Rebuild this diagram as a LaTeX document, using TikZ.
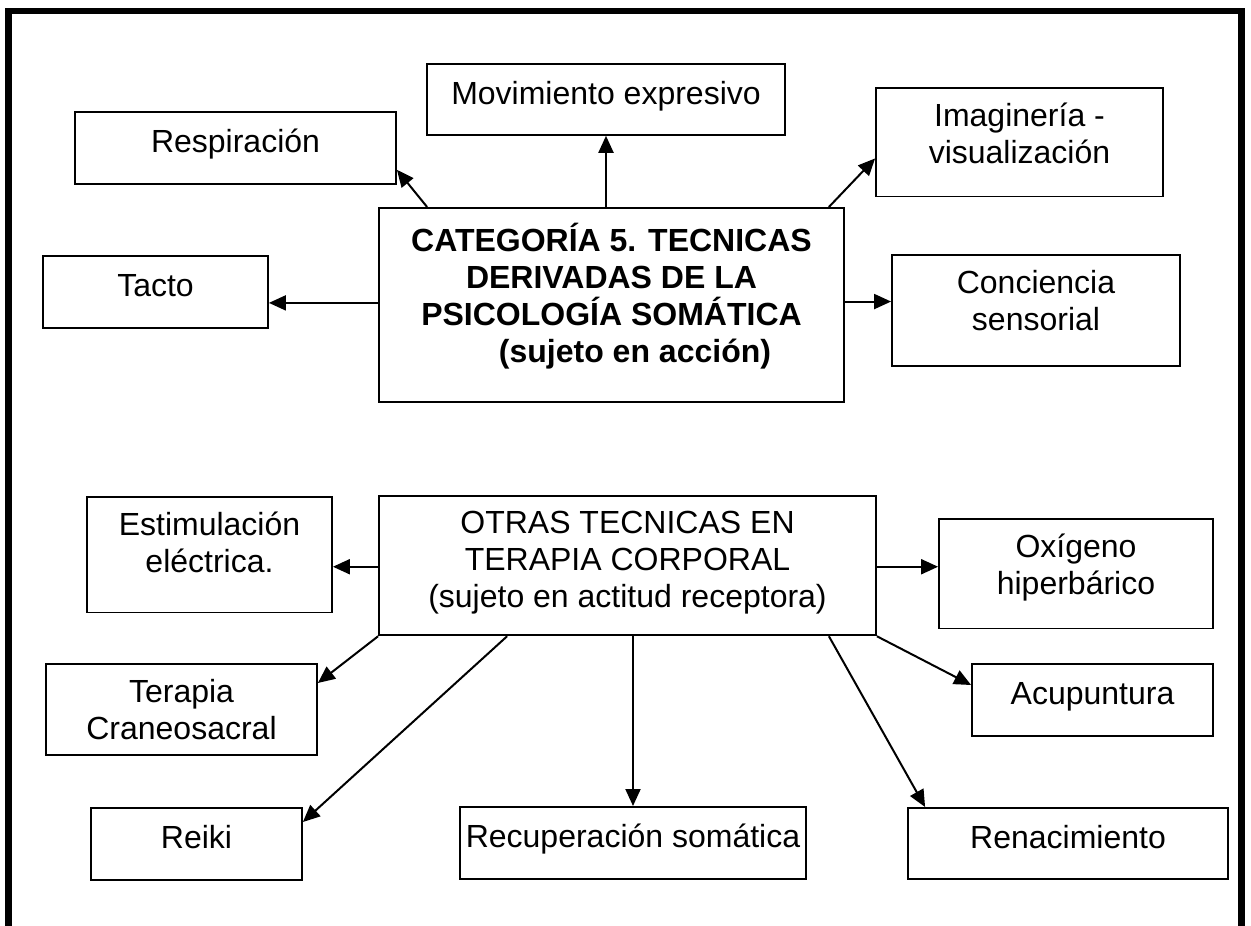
\documentclass[tikz,border=0pt]{standalone}
\usepackage{fontspec}
\setmainfont{Liberation Sans}
\usepackage{tikz}
\usetikzlibrary{arrows.meta}
\tikzstyle{caja} = [draw, line width=1.8pt, anchor=north, align=center, inner xsep=6pt, inner ysep=15pt, font=\fontsize{32}{37}\selectfont, execute at begin node=\strut]
\tikzstyle{flecha} = [line width=2pt,-{Triangle[length=17pt,width=15pt]}]

\begin{document}
\begin{tikzpicture}[x=1pt, y=-1pt]
  \useasboundingbox (0,0) rectangle (1251,926);
  % Marco
  \draw[line width=6.5pt] (8.5,926) -- (8.5,11) -- (1241.5,11) -- (1241.5,926);

  % Categoria 5
  \node[caja, minimum width=465pt, text depth=25.1pt, font=\fontsize{32}{37}\selectfont\bfseries] (cat) at (611.5,207)
    {CATEGORÍA 5. TECNICAS\\DERIVADAS DE LA\\PSICOLOGÍA SOMÁTICA\\\hspace*{47pt}(sujeto en acción)};
  \node[caja, minimum width=321pt, text depth=16.1pt] (resp) at (235.5,111) {Respiración};
  \node[caja, minimum width=358pt, text depth=15.1pt] (mov) at (606,63) {Movimiento expresivo};
  \node[caja, minimum width=287pt, text depth=18.1pt] (imag) at (1019.5,87) {Imaginería -\\visualización};
  \node[caja, minimum width=225pt, text depth=16.1pt] (tacto) at (155.5,255) {Tacto};
  \node[caja, minimum width=288pt, text depth=21.1pt] (conc) at (1036,254) {Conciencia\\sensorial};

  \draw[flecha] ([xshift=49pt]cat.north west) -- ([yshift=15pt]resp.south east);
  \draw[flecha] (mov.south |- cat.north) -- (mov.south);
  \draw[flecha] ([xshift=-16pt]cat.north east) -- ([yshift=39pt]imag.south west);
  \draw[flecha] ([yshift=-11pt]tacto.east -| cat.west) -- ([yshift=-11pt]tacto.east);
  \draw[flecha] ([yshift=9pt]conc.west -| cat.east) -- ([yshift=9pt]conc.west);

  % Otras tecnicas
  \node[caja, minimum width=497pt, text depth=13.1pt] (otras) at (627.5,495)
    {OTRAS TECNICAS EN\\TERAPIA CORPORAL\\(sujeto en actitud receptora)};
  \node[caja, minimum width=245pt, text depth=25.1pt] (estim) at (209.5,496) {Estimulación\\eléctrica.};
  \node[caja, minimum width=274pt, text depth=19.1pt] (oxig) at (1076,518) {Oxígeno\\hiperbárico};
  \node[caja, minimum width=271pt, text depth=1.1pt] (tera) at (181.5,663) {Terapia\\Craneosacral};
  \node[caja, minimum width=241pt, text depth=16.1pt] (acu) at (1092.5,663) {Acupuntura};
  \node[caja, minimum width=211pt, text depth=16.1pt] (reiki) at (196.5,807) {Reiki};
  \node[caja, minimum width=346pt, text depth=16.1pt] (recu) at (633,806) {Recuperación somática};
  \node[caja, minimum width=320pt, text depth=15.1pt] (rena) at (1068,807) {Renacimiento};

  \draw[flecha] ([yshift=-12pt]estim.east -| otras.west) -- ([yshift=-12pt]estim.east);
  \draw[flecha] ([yshift=7pt]oxig.west -| otras.east) -- ([yshift=7pt]oxig.west);
  \draw[flecha] (otras.south west) -- ([yshift=-20pt]tera.north east);
  \draw[flecha] ([xshift=129pt]otras.south west) -- ([yshift=-15pt]reiki.north east);
  \draw[flecha] (recu.north |- otras.south) -- (recu.north);
  \draw[flecha] ([xshift=-48pt]otras.south east) -- ([xshift=18pt]rena.north west);
  \draw[flecha] (otras.south east) -- ([yshift=-22pt]acu.north west);
\end{tikzpicture}
\end{document}
